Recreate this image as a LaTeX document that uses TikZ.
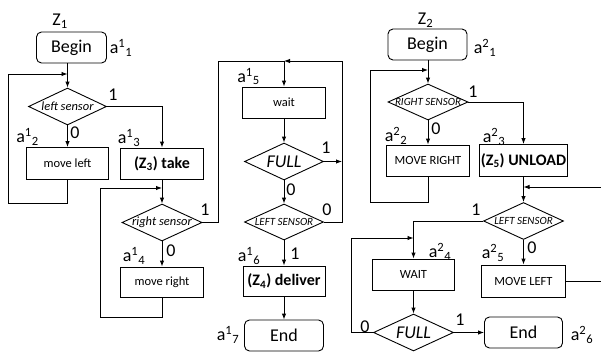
\documentclass[tikz,border=0pt]{standalone}
\usepackage{fontspec}
\setmainfont{Carlito}
\usepackage{tikz}
\usetikzlibrary{shapes, calc, positioning, arrows.meta}

\newcommand{\albl}[2]{a\textsuperscript{#1}\textsubscript{#2}}

\tikzset{
  box/.style={draw, rectangle, line width=0.9pt, inner sep=1pt, minimum height=31pt, font=\fontsize{12.5}{14}\selectfont},
  term/.style={box, rounded corners=5pt, font=\fontsize{18}{20}\selectfont},
  act/.style={box, font=\fontsize{16}{18}\selectfont\bfseries},
  cond/.style={draw, diamond, aspect=2.16, line width=0.9pt, inner sep=-2pt, minimum width=80pt, minimum height=37pt, font=\fontsize{12.5}{14}\selectfont\itshape},
  capcond/.style={cond, font=\fontsize{11}{12}\selectfont\itshape},
  fullcond/.style={cond, font=\fontsize{18}{20}\selectfont\itshape},
  lbl/.style={inner sep=0pt, font=\fontsize{18}{20}\selectfont},
  flow/.style={line width=0.9pt, -{Latex[length=6pt,width=4.5pt]}},
  wire/.style={line width=0.9pt}
}

\begin{document}
\begin{tikzpicture}[x=1pt, y=-1pt]
\useasboundingbox (0,0) rectangle (601,353);

%//chart Z1
\node [term, minimum width=70pt] (begin1) at (71.5,47.5) {Begin};
\node [cond, minimum width=78pt] (d1) at (67.5,106.5) {left sensor};
\node [box, minimum width=82pt, minimum height=32pt] (ml1) at (67.5,163.5) {move left};
\node [act, minimum width=83pt] (take1) at (162,163.5) {(Z\textsubscript{3}) take};
\node [cond] (d2) at (162,222.5) {right sensor};
\node [box, minimum width=83pt, minimum height=30pt] (mr1) at (162,282) {move right};
\node [box, minimum width=83pt] (wait1) at (284,102.5) {wait};
\node [fullcond, minimum width=79pt] (full1) at (284,161.5) {FULL};
\node [capcond, minimum width=79pt, minimum height=36pt] (d3) at (284,222) {LEFT SENSOR};
\node [act, minimum width=82pt, minimum height=30pt] (deliver1) at (284,281) {(Z\textsubscript{4}) deliver};
\node [term, minimum width=79pt] (end1) at (284,335.5) {End};

\coordinate (j1) at (67.5,74);
\coordinate (lp1) at (8,203);
\coordinate (j2) at (162,188);
\coordinate (lp2) at (100,317);
\coordinate (tl) at (218,61);
\coordinate (tr) at (342,61);
\coordinate (j3) at (284,61);
\coordinate (f1r) at (342,161.5);

\draw [flow] (begin1.south -| d1.north) -- (d1.north);
\draw [flow] (d1.south) -- (ml1.north);
\draw [flow] (d1.east) -| (take1.north);
\draw [flow] (ml1.south) |- (lp1) |- (j1);
\draw [flow] (take1.south) -- (d2.north);
\draw [flow] (d2.south) -- (mr1.north);
\draw [flow] (mr1.south) |- (lp2) |- (j2);
\draw [flow] (d2.east) -| (tl) -| (wait1.north);
\draw [flow] (wait1.south) -- (full1.north);
\draw [flow] (full1.east) -- (f1r);
\draw [flow] (full1.south) -- (d3.north);
\draw [flow] (d3.east) -| (tr) -- (j3);
\draw [flow] (d3.south) -- (deliver1.north);
\draw [flow] (deliver1.south) -- (end1.north);

%//chart Z2
\node [term, minimum width=79pt] (begin2) at (427.5,44.5) {Begin};
\node [capcond, minimum height=36pt] (d4) at (428,102) {RIGHT SENSOR};
\node [box, minimum width=83pt] (mr2) at (428,160.5) {MOVE RIGHT};
\node [act, minimum width=80pt, minimum height=32pt] (ul2) at (523.5,160.5) {(Z\textsubscript{5}) UNLOAD};
\node [capcond] (d5) at (523.5,221) {LEFT SENSOR};
\node [box, minimum width=82pt] (w2) at (413.5,274.5) {WAIT};
\node [box, minimum width=84pt, minimum height=32pt] (ml2) at (523.5,281) {MOVE LEFT};
\node [fullcond] (full2) at (413.5,332.5) {FULL};
\node [term, minimum width=78pt] (end2) at (523.5,332.5) {End};

\coordinate (j4) at (428,70);
\coordinate (lp3) at (370,202);
\coordinate (re1) at (601,187);
\coordinate (j5) at (523.5,187);
\coordinate (re2) at (601,281);
\coordinate (lp4) at (351,238);
\coordinate (j6) at (413.5,238);

\draw [flow] (begin2.south -| d4.north) -- (d4.north);
\draw [flow] (d4.south) -- (mr2.north);
\draw [flow] (d4.east) -| (ul2.north);
\draw [flow] (mr2.south) |- (lp3) |- (j4);
\draw [flow] (ul2.south) -- (d5.north);
\draw [flow] (re1) -- (j5);
\draw [flow] (d5.west) -| (w2.north);
\draw [flow] (d5.south) -- (ml2.north);
\draw [wire] (ml2.east) -- (re2);
\draw [flow] (w2.south) -- (full2.north);
\draw [flow] (full2.west) -| (lp4) -- (j6);
\draw [flow] (full2.east) -- (end2.west);

%//labels
\foreach \n/\x/\y/\val in {z1/60/21/Z\textsubscript{1}, z2/425.5/20/Z\textsubscript{2},
  a11/121/48/\albl{1}{1}, a12/27.5/137/\albl{1}{2}, a13/129/138/\albl{1}{3},
  a14/134/256/\albl{1}{4}, a15/248.5/76.5/\albl{1}{5}, a16/249/256/\albl{1}{6},
  a17/228/335/\albl{1}{7},
  a21/485/48/\albl{2}{1}, a22/396/136/\albl{2}{2}, a23/494/137/\albl{2}{3},
  a24/440/252/\albl{2}{4}, a25/493/253/\albl{2}{5}, a26/582/335/\albl{2}{6}}
\node [lbl] (\n) at (\x,\y) {\val};

\foreach \n/\x/\y/\val in {n1/113/95/1, n2/75/133/0, n3/205/210/1, n4/171/251/0,
  n5/326/148/1, n6/291/190/0, n7/327/210/0, n8/295/254/1,
  n9/473/92/1, n10/436/129/0, n11/476/210/1, n12/532/248/0,
  n13/365/327/0, n14/460/320/1}
\node [lbl] (\n) at (\x,\y) {\val};
\end{tikzpicture}
\end{document}
